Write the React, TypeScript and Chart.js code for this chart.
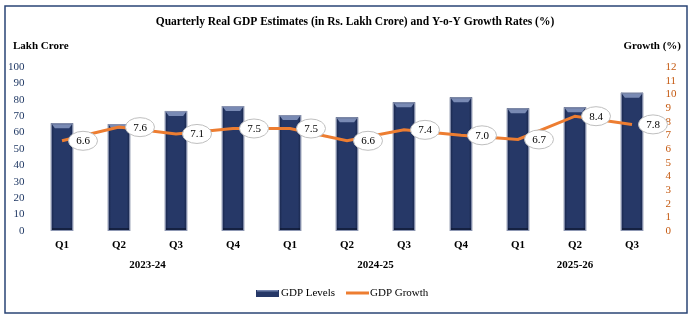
import React, { useEffect, useRef } from "react";
import { Chart, registerables } from "chart.js";

Chart.register(...registerables);

const categories = ["Q1", "Q2", "Q3", "Q4", "Q1", "Q2", "Q3", "Q4", "Q1", "Q2", "Q3"];
const fiscalYears = ["2023-24", "2024-25", "2025-26"];
const quartersPerYear = [4, 4, 3];
const gdpLevels = [65.7, 65.2, 73.2, 76.2, 70.7, 69.3, 78.5, 81.5, 74.8, 75.4, 84.3];
const gdpGrowth = [6.6, 7.6, 7.1, 7.5, 7.5, 6.6, 7.4, 7.0, 6.7, 8.4, 7.8];
const leftAxis = { min: 0, max: 100, step: 10 };
const rightAxis = { min: 0, max: 12, step: 1 };

const FONT = "'Liberation Serif', 'Times New Roman', serif";
const NAVY = "#263867";
const ORANGE = "#ED7D31";

const extras = {
  id: "extras",
  beforeDraw(chart: any) {
    const ctx = chart.ctx;
    ctx.save();
    ctx.fillStyle = "#fff";
    ctx.fillRect(0, 0, chart.width, chart.height);
    ctx.strokeStyle = "#2A4475";
    ctx.lineWidth = 1.5;
    ctx.strokeRect(5, 6, 682, 307);
    ctx.restore();
  },
  afterDatasetDraw(chart: any, args: any) {
    if (args.index !== 0) return;
    const ctx = chart.ctx;
    const meta = chart.getDatasetMeta(0);
    ctx.save();
    meta.data.forEach((bar: any) => {
      const w = bar.width;
      const l = bar.x - w / 2;
      const r = bar.x + w / 2;
      const t = bar.y;
      const b = bar.base;
      const g = ctx.createLinearGradient(l, 0, r, 0);
      g.addColorStop(0, "rgba(10,20,45,0.55)");
      g.addColorStop(0.15, "rgba(10,20,45,0)");
      g.addColorStop(0.85, "rgba(10,20,45,0)");
      g.addColorStop(1, "rgba(10,20,45,0.55)");
      ctx.fillStyle = g;
      ctx.fillRect(l, t, w, b - t);
      ctx.fillStyle = "rgba(150,165,205,0.75)";
      ctx.beginPath();
      ctx.moveTo(l + 1, t + 1);
      ctx.lineTo(r - 1, t + 1);
      ctx.lineTo(r - 4, t + 5);
      ctx.lineTo(l + 4, t + 5);
      ctx.closePath();
      ctx.fill();
      ctx.fillStyle = "rgba(10,18,40,0.6)";
      ctx.fillRect(l + 1, b - 3, w - 2, 3);
      ctx.strokeStyle = "#8d97b3";
      ctx.lineWidth = 1;
      ctx.strokeRect(l + 0.5, t + 0.5, w - 1, b - t - 1);
    });
    ctx.restore();
  },
  afterDraw(chart: any) {
    const ctx = chart.ctx;
    const xs = chart.scales.x;
    ctx.save();
    const meta = chart.getDatasetMeta(1);
    meta.data.forEach((pt: any, i: number) => {
      const cx = pt.x + 21;
      const cy = pt.y;
      ctx.beginPath();
      ctx.ellipse(cx, cy, 14.5, 9.5, 0, 0, Math.PI * 2);
      ctx.fillStyle = "#fff";
      ctx.fill();
      ctx.strokeStyle = "#bfbfbf";
      ctx.lineWidth = 1;
      ctx.stroke();
      ctx.fillStyle = "#000";
      ctx.font = `11px ${FONT}`;
      ctx.textAlign = "center";
      ctx.textBaseline = "middle";
      ctx.fillText(gdpGrowth[i].toFixed(1), cx, cy + 0.5);
    });
    ctx.fillStyle = "#000";
    ctx.textAlign = "center";
    ctx.textBaseline = "middle";
    ctx.font = `bold 11.5px ${FONT}`;
    ctx.fillText("Quarterly Real GDP Estimates (in Rs. Lakh Crore) and Y-o-Y Growth Rates (%)", 355, 22);
    ctx.font = `bold 11px ${FONT}`;
    ctx.textAlign = "left";
    ctx.fillText("Lakh Crore", 13, 46);
    ctx.textAlign = "right";
    ctx.fillText("Growth (%)", 681, 46);
    ctx.textAlign = "center";
    let start = 0;
    fiscalYears.forEach((fy, k) => {
      const end = start + quartersPerYear[k] - 1;
      const x = (xs.getPixelForValue(start) + xs.getPixelForValue(end)) / 2;
      ctx.fillText(fy, x, 265);
      start = end + 1;
    });
    const ly = 293;
    ctx.fillStyle = NAVY;
    ctx.fillRect(256, ly - 3, 23, 7);
    ctx.fillStyle = "rgba(150,165,205,0.7)";
    ctx.fillRect(257, ly - 3, 21, 1.5);
    ctx.strokeStyle = ORANGE;
    ctx.lineWidth = 3;
    ctx.beginPath();
    ctx.moveTo(346, ly);
    ctx.lineTo(369, ly);
    ctx.stroke();
    ctx.fillStyle = "#000";
    ctx.font = `11px ${FONT}`;
    ctx.textAlign = "left";
    ctx.fillText("GDP Levels", 281, ly);
    ctx.fillText("GDP Growth", 370, ly);
    ctx.restore();
  },
};

export default function App() {
  const ref = useRef<HTMLCanvasElement>(null);
  useEffect(() => {
    if (!ref.current) return;
    const chart = new Chart(ref.current, {
      type: "bar",
      data: {
        labels: categories,
        datasets: [
          {
            type: "bar",
            label: "GDP Levels",
            data: gdpLevels,
            backgroundColor: NAVY,
            yAxisID: "y",
            order: 1,
            categoryPercentage: 1,
            barPercentage: 0.39,
          },
          {
            type: "line",
            label: "GDP Growth",
            data: gdpGrowth,
            borderColor: ORANGE,
            borderWidth: 3,
            pointRadius: 0,
            tension: 0,
            yAxisID: "y1",
            order: 0,
          },
        ],
      } as any,
      options: {
        animation: false,
        responsive: false,
        maintainAspectRatio: false,
        layout: { padding: { top: 67, bottom: 62, left: 0, right: 0 } },
        plugins: { legend: { display: false }, tooltip: { enabled: false }, title: { display: false } },
        scales: {
          x: {
            grid: { display: false, drawTicks: false },
            border: { display: false },
            ticks: { color: "#000", font: { family: FONT, size: 11, weight: "bold" }, padding: 8, maxRotation: 0, autoSkip: false },
            afterFit(s: any) { s.height = 30; },
          },
          y: {
            position: "left",
            min: leftAxis.min,
            max: leftAxis.max,
            grid: { display: false, drawTicks: false },
            border: { display: false },
            ticks: { stepSize: leftAxis.step, color: "#1F3864", font: { family: FONT, size: 11 }, padding: 9, autoSkip: false },
            afterFit(s: any) { s.width = 33.5; },
          },
          y1: {
            position: "right",
            min: rightAxis.min,
            max: rightAxis.max,
            grid: { display: false, drawTicks: false },
            border: { display: false },
            ticks: { stepSize: rightAxis.step, color: "#C55A11", font: { family: FONT, size: 11 }, padding: 5, autoSkip: false },
            afterFit(s: any) { s.width = 33.5; },
          },
        },
      } as any,
      plugins: [extras],
    });
    return () => chart.destroy();
  }, []);
  return (
    <div style={{ position: "absolute", left: 0, top: 0, width: 694, height: 323 }}>
      <canvas ref={ref} width={694} height={323} style={{ width: 694, height: 323 }} />
    </div>
  );
}
